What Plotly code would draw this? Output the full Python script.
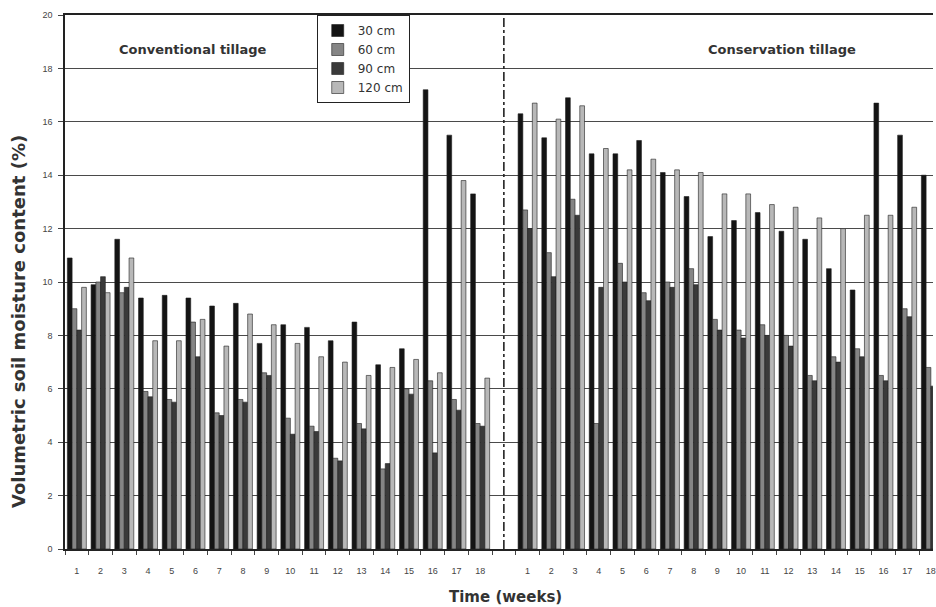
import numpy as np
import plotly.graph_objects as go

weeks = list(range(1, 19))
week_labels = [str(w) for w in weeks]
depths = ["30 cm", "60 cm", "90 cm", "120 cm"]

# Conventional tillage (weeks 1-18)
conv_30 = [10.9, 9.9, 11.6, 9.4, 9.5, 9.4, 9.1, 9.2, 7.7, 8.4, 8.3, 7.8, 8.5, 6.9, 7.5, 17.2, 15.5, 13.3]
conv_60 = [9.0, 10.0, 9.6, 5.9, 5.6, 8.5, 5.1, 5.6, 6.6, 4.9, 4.6, 3.4, 4.7, 3.0, 6.0, 6.3, 5.6, 4.7]
conv_90 = [8.2, 10.2, 9.8, 5.7, 5.5, 7.2, 5.0, 5.5, 6.5, 4.3, 4.4, 3.3, 4.5, 3.2, 5.8, 3.6, 5.2, 4.6]
conv_120 = [9.8, 9.6, 10.9, 7.8, 7.8, 8.6, 7.6, 8.8, 8.4, 7.7, 7.2, 7.0, 6.5, 6.8, 7.1, 6.6, 13.8, 6.4]

# Conservation tillage (weeks 1-18)
cons_30 = [16.3, 15.4, 16.9, 14.8, 14.8, 15.3, 14.1, 13.2, 11.7, 12.3, 12.6, 11.9, 11.6, 10.5, 9.7, 16.7, 15.5, 14.0]
cons_60 = [12.7, 11.1, 13.1, 4.7, 10.7, 9.6, 10.0, 10.5, 8.6, 8.2, 8.4, 8.0, 6.5, 7.2, 7.5, 6.5, 9.0, 6.8]
cons_90 = [12.0, 10.2, 12.5, 9.8, 10.0, 9.3, 9.8, 9.9, 8.2, 7.9, 8.0, 7.6, 6.3, 7.0, 7.2, 6.3, 8.7, 6.1]
cons_120 = [16.7, 16.1, 16.6, 15.0, 14.2, 14.6, 14.2, 14.1, 13.3, 13.3, 12.9, 12.8, 12.4, 12.0, 12.5, 12.5, 12.8, 12.0]

colors = ["#141414", "#858585", "#3a3a3a", "#b8b8b8"]

# x positions: conventional 1..18, a blank slot (19), conservation 20..37
conv_x = np.array(weeks)
cons_x = np.array(weeks) + 19
sep_x = 19
all_x = np.concatenate([conv_x, cons_x])
all_labels = week_labels + week_labels

series = [
    (conv_30, cons_30),
    (conv_60, cons_60),
    (conv_90, cons_90),
    (conv_120, cons_120),
]

fig = go.Figure()
for name, (cv, cs), col in zip(depths, series, colors):
    fig.add_trace(go.Bar(
        x=all_x, y=np.concatenate([cv, cs]), name=name, legendgroup=name,
        marker=dict(color=col, line=dict(color="#1e1e1e", width=0.6)),
    ))

fig.add_shape(type="line", xref="x", yref="y", x0=sep_x, x1=sep_x, y0=0, y1=20,
              line=dict(color="#222222", width=1.6, dash="dashdot"))

title_font = dict(family="DejaVu Sans", color="#333333", weight="bold")
fig.add_annotation(text="Conventional tillage", xref="paper", yref="paper", x=0.148, y=0.9345,
                   xanchor="center", yanchor="middle",
                   showarrow=False, font=dict(size=13, **title_font))
fig.add_annotation(text="Conservation tillage", xref="paper", yref="paper", x=0.8255, y=0.9345,
                   xanchor="center", yanchor="middle",
                   showarrow=False, font=dict(size=13, **title_font))
fig.add_annotation(text="Time (weeks)", xref="paper", yref="paper", x=0.5075, y=-0.09,
                   xanchor="center", yanchor="middle", showarrow=False, font=dict(size=15, **title_font))
fig.add_annotation(text="Volumetric soil moisture content (%)", xref="paper", yref="paper",
                   x=-0.053, y=0.427, xanchor="center", yanchor="middle", textangle=-90, showarrow=False,
                   font=dict(size=18, **title_font))

fig.update_layout(
    width=936, height=607,
    margin=dict(l=65, r=0, t=15, b=58, pad=0),
    paper_bgcolor="white", plot_bgcolor="white",
    barmode="group", bargap=0.2, bargroupgap=0,
    font=dict(family="Liberation Sans", color="#444444"),
    legend=dict(x=0.29, y=1.0, xanchor="left", yanchor="top",
                bgcolor="white", bordercolor="#222222", borderwidth=1,
                font=dict(family="DejaVu Sans", size=12, color="#333333"),
                tracegroupgap=5, traceorder="normal"),
    xaxis=dict(range=[0.5, 37.09], tickmode="array", tickvals=all_x, ticktext=all_labels,
               ticks="", showgrid=False, zeroline=False, ticklabeloverflow="allow",
               showline=True, linecolor="#222222", linewidth=1.5, mirror=True,
               tickfont=dict(size=9, color="#444444"), ticklabelstandoff=12,
               minor=dict(ticks="outside", ticklen=4, tickcolor="#444444",
                          tickmode="linear", tick0=0.5, dtick=1, showgrid=False)),
    yaxis=dict(range=[0, 20], dtick=2, tick0=0, showgrid=True, gridcolor="#4a4a4a", gridwidth=1.3,
               zeroline=False, showline=True, linecolor="#222222", linewidth=1.5,
               ticks="outside", ticklen=5, tickcolor="#444444",
               tickfont=dict(size=9, color="#444444"), ticklabelstandoff=4),
)

fig.write_html("out.html")
